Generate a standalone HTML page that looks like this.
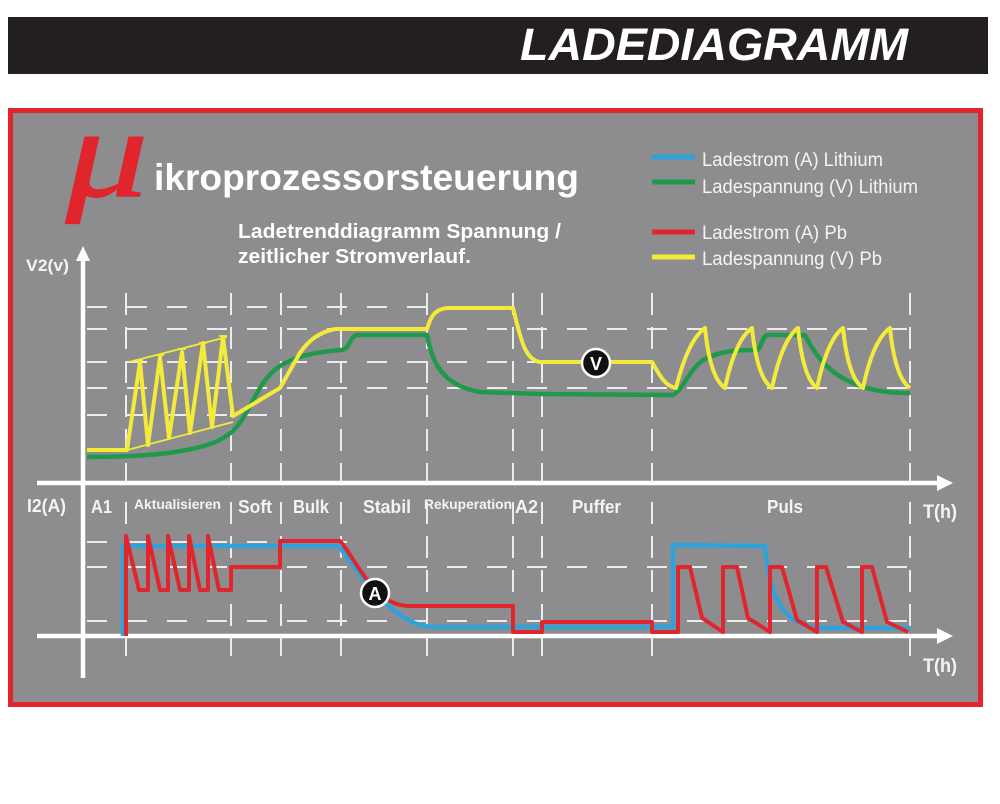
<!DOCTYPE html>
<html><head><meta charset="utf-8"><style>
html,body{margin:0;padding:0;background:#fff;}
svg{display:block;}
text{font-family:"Liberation Sans",Arial,sans-serif;}
</style></head><body>
<svg width="1000" height="804" viewBox="0 0 1000 804" xmlns="http://www.w3.org/2000/svg">
<rect width="1000" height="804" fill="#ffffff"/>
<!-- banner -->
<rect x="8" y="17" width="980" height="57" fill="#231f20"/>
<text x="520" y="60" font-size="45" font-weight="bold" font-style="italic" fill="#ffffff" textLength="388" lengthAdjust="spacingAndGlyphs">LADEDIAGRAMM</text>
<!-- frame -->
<rect x="10.5" y="110.5" width="970" height="594" fill="#8d8d8f" stroke="#e1252c" stroke-width="5"/>
<!-- title -->
<text x="66" y="196" font-size="128" font-style="italic" fill="#e1252c" stroke="#e1252c" stroke-width="1.5" style="font-family:'Liberation Serif',serif" textLength="82" lengthAdjust="spacingAndGlyphs">μ</text>
<text x="154" y="190" font-size="37" font-weight="bold" fill="#ffffff" textLength="425" lengthAdjust="spacingAndGlyphs">ikroprozessorsteuerung</text>
<text x="238" y="238" font-size="20" font-weight="bold" fill="#ffffff" textLength="323" lengthAdjust="spacingAndGlyphs">Ladetrenddiagramm Spannung /</text>
<text x="238" y="263" font-size="20" font-weight="bold" fill="#ffffff" textLength="233" lengthAdjust="spacingAndGlyphs">zeitlicher Stromverlauf.</text>
<!-- legend -->
<g stroke-width="5">
<line x1="652" y1="157" x2="695" y2="157" stroke="#2ea3db"/>
<line x1="652" y1="182" x2="695" y2="182" stroke="#1f9a4b"/>
<line x1="652" y1="232" x2="695" y2="232" stroke="#e1252c"/>
<line x1="652" y1="257" x2="695" y2="257" stroke="#f3ea3b"/>
</g>
<g font-size="19" fill="#f4f4f4">
<text x="702" y="166" textLength="181" lengthAdjust="spacingAndGlyphs">Ladestrom (A) Lithium</text>
<text x="702" y="193" textLength="216" lengthAdjust="spacingAndGlyphs">Ladespannung (V) Lithium</text>
<text x="702" y="239" textLength="145" lengthAdjust="spacingAndGlyphs">Ladestrom (A) Pb</text>
<text x="702" y="265" textLength="180" lengthAdjust="spacingAndGlyphs">Ladespannung (V) Pb</text>
</g>
<!-- grid -->
<g stroke="#ececec" stroke-width="2" fill="none" stroke-dasharray="20 20">
<line x1="87" y1="307" x2="513" y2="307"/>
<line x1="87" y1="329" x2="910" y2="329"/>
<line x1="87" y1="362" x2="540" y2="362"/>
<line x1="87" y1="388" x2="910" y2="388"/>
<line x1="87" y1="415" x2="270" y2="415"/>
<line x1="87" y1="542" x2="355" y2="542"/>
<line x1="87" y1="567" x2="910" y2="567"/>
<line x1="87" y1="621" x2="910" y2="621"/>
</g>
<g stroke="#ececec" stroke-width="2" fill="none" stroke-dasharray="22 12">
<path d="M126,293V483 M231,293V483 M281,293V483 M341,293V483 M427,293V483 M513,293V483 M542,293V483 M652,293V483 M910,293V483"/>
<path d="M126,502V656 M231,502V656 M281,502V656 M341,502V656 M427,502V656 M513,502V656 M542,502V656 M652,502V656 M910,502V656"/>
</g>
<!-- axes -->
<g stroke="#ffffff" stroke-width="4.5" fill="none">
<line x1="83" y1="256" x2="83" y2="678"/>
<line x1="37" y1="483" x2="940" y2="483"/>
<line x1="37" y1="636" x2="940" y2="636"/>
</g>
<g fill="#ffffff">
<polygon points="83,246 76,261 90,261"/>
<polygon points="953,483 937,475 937,491"/>
<polygon points="953,636 937,628 937,644"/>
</g>
<!-- axis labels -->
<g font-weight="bold" fill="#f4f4f4">
<text x="26" y="271" font-size="17" textLength="43" lengthAdjust="spacingAndGlyphs">V2(v)</text>
<text x="27" y="512" font-size="18" textLength="39" lengthAdjust="spacingAndGlyphs">I2(A)</text>
<text x="91" y="513" font-size="18" textLength="21" lengthAdjust="spacingAndGlyphs">A1</text>
<text x="134" y="509" font-size="14" textLength="87" lengthAdjust="spacingAndGlyphs">Aktualisieren</text>
<text x="238" y="513" font-size="18" textLength="34" lengthAdjust="spacingAndGlyphs">Soft</text>
<text x="293" y="513" font-size="18" textLength="36" lengthAdjust="spacingAndGlyphs">Bulk</text>
<text x="363" y="513" font-size="18" textLength="48" lengthAdjust="spacingAndGlyphs">Stabil</text>
<text x="424" y="509" font-size="14" textLength="88" lengthAdjust="spacingAndGlyphs">Rekuperation</text>
<text x="515" y="513" font-size="18" textLength="23" lengthAdjust="spacingAndGlyphs">A2</text>
<text x="572" y="513" font-size="18" textLength="49" lengthAdjust="spacingAndGlyphs">Puffer</text>
<text x="767" y="513" font-size="18" textLength="36" lengthAdjust="spacingAndGlyphs">Puls</text>
<text x="923" y="518" font-size="19" textLength="34" lengthAdjust="spacingAndGlyphs">T(h)</text>
<text x="923" y="672" font-size="19" textLength="34" lengthAdjust="spacingAndGlyphs">T(h)</text>
</g>
<!-- top chart: green (Li voltage) -->
<path d="M87,457 C130,457 180,455 213,443 C225,438 235,432 245,415 C255,398 262,378 280,366 C296,356 315,352 342,350 C350,349 350,335 358,335 L427,335 C432,360 440,385 480,392 L540,394 L673,395 C685,388 690,366 707,358 C725,350 740,350 757,350 C762,348 762,335 768,335 L805,335 C815,355 830,378 867,388 C880,392 895,393 910,393" fill="none" stroke="#1f9a4b" stroke-width="4.5" stroke-linejoin="round"/>
<!-- top chart: yellow thin envelope -->
<g stroke="#f3ea3b" stroke-width="1.8" fill="none">
<line x1="129" y1="362" x2="227" y2="337"/>
<line x1="127" y1="450" x2="233" y2="422"/>
<path d="M136,360 L143,360 M156,355 L164,355 M178,349 L186,349 M199,343 L207,343 M219,336 L227,336"/>
</g>
<!-- top chart: yellow (Pb voltage) -->
<path d="M87,450 L127,450 L140,362 L148,445 L160,357 L169,438 L182,352 L190,433 L203,343 L212,427 L223,337 L233,416 L280,388 L297,358 Q310,334 335,329 L427,329 C431,315 436,308 450,308 L513,308 C519,330 523,360 540,362 L652,362 C660,376 665,386 676,388 Q688,340 705,328 Q710,378 725,388 Q735,340 752,328 Q757,378 772,388 Q782,340 798,328 Q803,378 817,388 Q827,340 843,328 Q848,378 863,388 Q873,340 890,328 Q895,378 910,388" fill="none" stroke="#f3ea3b" stroke-width="4" stroke-linejoin="round"/>
<!-- V marker -->
<circle cx="596" cy="363" r="14" fill="#111" stroke="#ffffff" stroke-width="2.5"/>
<text x="596" y="370" font-size="18" font-weight="bold" fill="#ffffff" text-anchor="middle">V</text>
<!-- bottom: blue (Li current) -->
<path d="M123,636 L123,546 L338,546 C348,556 360,578 380,598 C395,612 410,625 430,627 L673,627 L673,545 L765,546 C768,580 775,612 800,623 C810,627 815,628 830,628 L910,628" fill="none" stroke="#2ea3db" stroke-width="4.5" stroke-linejoin="round"/>
<!-- bottom: red (Pb current) -->
<path d="M126,636 L126,536 L139,590 L148,590 L148,536 L160,590 L168,590 L168,536 L180,590 L189,590 L189,536 L200,590 L208,590 L208,536 L219,590 L231,590 L231,567 L280,567 L280,541 L340,541 C350,552 362,578 380,594 C392,604 400,606 412,606 L513,606 L513,632 L542,632 L542,622 L652,622 L652,632 L678,632 L678,567 L690,567 L702,618 L723,632 L723,567 L737,567 L748,618 L770,632 L770,567 L782,567 L797,620 L817,632 L817,567 L826,567 L843,622 L862,632 L862,567 L872,567 L887,622 L908,632" fill="none" stroke="#e1252c" stroke-width="4" stroke-linejoin="round"/>
<!-- A marker -->
<circle cx="375" cy="593" r="14" fill="#111" stroke="#ffffff" stroke-width="2.5"/>
<text x="375" y="600" font-size="18" font-weight="bold" fill="#ffffff" text-anchor="middle">A</text>
</svg>
</body></html>
